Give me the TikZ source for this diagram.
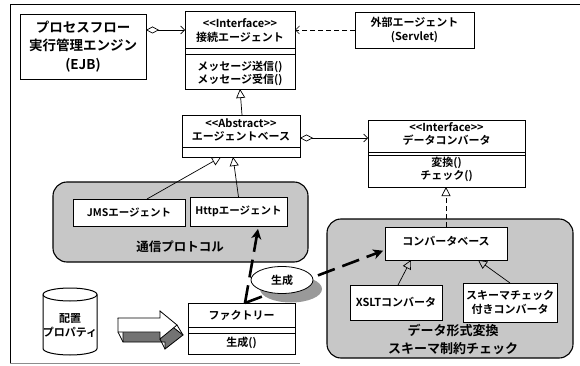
\documentclass[tikz,border=0pt]{standalone}
\usepackage{fontspec}
\setmainfont{Noto Sans CJK JP}[BoldFont={Noto Sans CJK JP Bold}]
\usetikzlibrary{arrows.meta,shapes.geometric}
% guillemet-free UML stereotype
\newcommand\umlst[1]{\mbox{<}\mbox{<}#1\mbox{>}\mbox{>}}

\begin{document}
\begin{tikzpicture}[x=1pt, y=-1pt,
  every node/.style={inner sep=0pt, outer sep=0pt},
  txt/.style={font=\bfseries\fontsize{11}{13.5}\selectfont, align=center},
  cls/.style={draw, line width=0.8pt, fill=white},
  region/.style={draw, line width=1.1pt, fill=black!22, rounded corners=14pt},
  inherit/.style={line width=0.7pt, -{Triangle[open, length=9pt, width=9pt]}},
  realize/.style={inherit, dash pattern=on 5pt off 3pt},
  aggr/.style={line width=0.7pt, {Diamond[open, length=13pt, width=7pt]}-{Straight Barb[length=4pt, width=8pt]}},
  dep/.style={line width=0.7pt, dash pattern=on 5pt off 3pt, -{Straight Barb[length=4pt, width=8pt]}},
  create/.style={line width=2.6pt, dash pattern=on 18pt off 8pt, -{Stealth[length=10pt, width=10pt, inset=3pt]}},
  divider/.style={line width=0.7pt}
]
\useasboundingbox (0,0) rectangle (580,366);

% outer frame
\draw[line width=1pt] (10,363) -- (10,5) -- (580,5);
\draw[line width=0.6pt, black!45] (10,363) -- (300,363);

% grouping regions
\node[region, minimum width=255pt, minimum height=80pt] (comm) at (180.5,222) {};
\node[txt, font=\bfseries\fontsize{12.5}{15}\selectfont] (commlbl) at (180,247) {通信プロトコル};
\node[region, minimum width=246pt, minimum height=139pt] (fmt) at (450,288.5) {};
\node[txt, font=\bfseries\fontsize{13}{18}\selectfont] (fmtlbl) at (453,339) {データ形式変換\\スキーマ制約チェック};

% process flow engine
\node[cls, txt, font=\bfseries\fontsize{13.5}{18.5}\selectfont,
      minimum width=126pt, minimum height=65pt] (proc) at (83,46.5)
      {プロセスフロー\\実行管理エンジン\\(EJB)};

% connection agent interface
\node[cls, minimum width=110pt, minimum height=78pt] (iface) at (240,50) {};
\draw[divider] (iface.west |- 0,48) -- (iface.east |- 0,48);
\draw[divider] (iface.west |- 0,54) -- (iface.east |- 0,54);
\node[txt] (ifacename) at (240,30.5) {\umlst{Interface}\\接続エージェント};
\node[txt] (ifaceops) at (240,73.5) {メッセージ送信()\\メッセージ受信()};

% external agent
\node[cls, txt, minimum width=119pt, minimum height=36pt] (ext) at (414.5,30)
      {外部エージェント\\(Servlet)};

% abstract agent base
\node[cls, minimum width=118pt, minimum height=42pt] (base) at (241,136) {};
\draw[divider] (base.west |- 0,147) -- (base.east |- 0,147);
\node[txt] (basename) at (241,130) {\umlst{Abstract}\\エージェントベース};

% data converter interface
\node[cls, minimum width=157pt, minimum height=67pt] (conv) at (446.5,153.5) {};
\draw[divider] (conv.west |- 0,152) -- (conv.east |- 0,152);
\draw[divider] (conv.west |- 0,155) -- (conv.east |- 0,155);
\node[txt] (convname) at (446.5,134) {\umlst{Interface}\\データコンバータ};
\node[txt] (convops) at (446.5,169.5) {変換()\\チェック()};

% concrete agents
\node[cls, txt, font=\bfseries\fontsize{10.5}{13}\selectfont,
      minimum width=112pt, minimum height=27pt] (jms) at (129,212.5) {JMSエージェント};
\node[cls, txt, font=\bfseries\fontsize{10.5}{13}\selectfont,
      minimum width=97pt, minimum height=29pt] (http) at (238.5,211.5) {Httpエージェント};

% converters
\node[cls, minimum width=122pt, minimum height=33pt] (cbase) at (446,243.5) {};
\node[txt] (cbasetxt) at (446,241) {コンバータベース};
\node[cls, txt, minimum width=92pt, minimum height=35pt] (xslt) at (396,302.5) {XSLTコンバータ};
\node[cls, txt, minimum width=94pt, minimum height=39pt] (schema) at (510,302.5)
      {スキーマチェック\\付きコンバータ};

% factory
\node[cls, minimum width=107pt, minimum height=51pt] (factory) at (241.5,328.5) {};
\draw[divider] (factory.west |- 0,327) -- (factory.east |- 0,327);
\draw[divider] (factory.west |- 0,333) -- (factory.east |- 0,333);
\node[txt] (factname) at (241.5,315) {ファクトリー};
\node[txt] (factops) at (241.5,343) {生成()};

% configuration properties store (cylinder)
\filldraw[line width=1pt, fill=white]
  (43,294.5) -- (43,348.5)
  arc[start angle=180, end angle=360, x radius=27pt, y radius=6.5pt]
  -- (97,294.5)
  arc[start angle=0, end angle=180, x radius=27pt, y radius=6.5pt] -- cycle;
\draw[line width=1pt] (43,294.5)
  arc[start angle=180, end angle=360, x radius=27pt, y radius=6.5pt];
\node[txt] (propstxt) at (70,325.5) {配置\\プロパティ};

% extruded block arrow
\filldraw[line width=0.8pt, fill=black!55]
  (123,328) -- (165,328) -- (165,321) -- (183,335) -- (165,349) -- (165,342) -- (123,342) -- cycle;
\draw[line width=0.8pt] (118,318) -- (123,328) (118,332) -- (123,342)
  (160,311) -- (165,321) (177,325) -- (183,335) (160,339) -- (165,349);
\filldraw[line width=0.8pt, fill=white]
  (118,318) -- (160,318) -- (160,311) -- (177,325) -- (160,339) -- (160,332) -- (118,332) -- cycle;

% relations
\draw[aggr] ([yshift=16.5pt]proc.east) -- ([yshift=16.5pt]proc.east -| iface.west);
\draw[dep] (ext.west) -- (ext.west -| iface.east);
\draw[inherit] ([xshift=1pt]base.north) -- ([xshift=0pt]iface.south);
\draw[aggr] ([yshift=-2pt]base.east) -- ([yshift=-2pt]base.east -| conv.west);
\draw[inherit] ([xshift=18pt]jms.north) -- ([xshift=-20pt]base.south);
\draw[inherit] (http.north) -- ([xshift=-8pt]base.south);
\draw[realize] (cbase.north) -- (cbase.north |- conv.south);
\draw[inherit] ([xshift=2pt]xslt.north) -- ([xshift=-35pt]cbase.south);
\draw[inherit] (schema.north) -- ([xshift=32pt]cbase.south);

% factory creates agents and converters
\coordinate (fact-top) at ([xshift=3.5pt]factory.north);
\draw[create, shorten >=3pt] (fact-top) -- ([xshift=20pt]http.south);
\draw[create, shorten >=2pt] (fact-top) -- ([yshift=-6.5pt]cbase.west);

% creation label with drop shadow
\node[ellipse, fill=black!40, minimum width=62pt, minimum height=27pt] (genshadow) at (291,289) {};
\node[ellipse, draw, line width=0.8pt, fill=white, txt,
      minimum width=62pt, minimum height=27pt] (gen) at (282,280) {生成};
\end{tikzpicture}
\end{document}
